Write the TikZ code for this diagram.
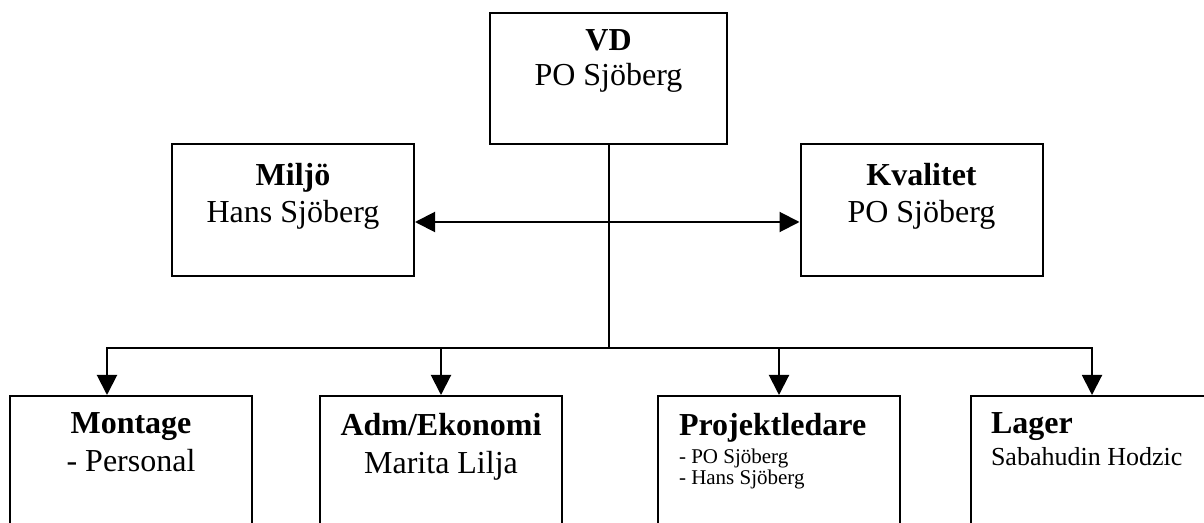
\documentclass[tikz,border=0pt]{standalone}
\usepackage{fontspec}
\setmainfont{Liberation Serif}
\usetikzlibrary{arrows.meta,positioning}

\begin{document}
\begin{tikzpicture}[x=0.5pt,y=-0.5pt,line width=1pt,
    box/.style={draw,anchor=north,minimum width=121pt,inner sep=0pt},
    txt/.style={inner sep=0pt,align=center,font=\fontsize{16}{18.5}\selectfont},
    ltxt/.style={txt,align=left},
    arr/.style={-{Triangle[width=10pt,length=10pt]}}]
            \useasboundingbox (0,0) rectangle (1204,523);
            \clip (0,0) rectangle (1204,523);
            \node[box,minimum width=118.5pt,minimum height=65.5pt] (vd) at (608.5,12) {};
            \node[box,minimum height=66pt] (miljo) at (293,143) {};
            \node[box,minimum height=66pt] (kval) at (921.5,143) {};
            \node[box,minimum height=75pt] (mont) at (131,395) {};
            \node[box,minimum height=75pt] (adm) at (441,395) {};
            \node[box,minimum height=75pt] (proj) at (779,395) {};
            \node[box,minimum height=75pt] (lager) at (1092,395) {};
            \node[txt,below=8.5pt of vd.north] (vdtxt) {\textbf{VD}\\[-1pt]PO Sjöberg};
            \node[txt,below=9.5pt of miljo.north] (miljotxt) {\textbf{Miljö}\\Hans Sjöberg};
            \node[txt,below=9.5pt of kval.north] (kvaltxt) {\textbf{Kvalitet}\\PO Sjöberg};
            \node[txt,below=8.5pt of mont.north] (monttxt) {\textbf{Montage}\\[0.5pt]- Personal};
            \node[txt,below=8.5pt of adm.north] (admtxt) {\textbf{Adm/Ekonomi}\\[0.5pt]Marita Lilja};
            \node[ltxt,below right=8.5pt and 10.5pt of proj.north west] (projtxt)
                {\textbf{Projektledare}\\[-4.5pt]{\fontsize{10.5}{10.5}\selectfont - PO Sjöberg}\\[-8pt]{\fontsize{10.5}{10.5}\selectfont - Hans Sjöberg}};
            \node[ltxt,below right=8.5pt and 10pt of lager.north west] (lagertxt)
                {\textbf{Lager}\\[-2.5pt]{\fontsize{13}{15}\selectfont Sabahudin Hodzic}};
            \coordinate (hub) at (608.5,348);
            \draw (vd.south) -- (hub);
            \draw[{Triangle[width=10pt,length=10pt]}-{Triangle[width=10pt,length=10pt]}]
                ([yshift=-6pt]miljo.east) -- ([yshift=-6pt]kval.west);
            \draw[arr] (hub) -| ([xshift=-12pt]mont.north);
            \draw[arr] (hub) -| (adm.north);
            \draw[arr] (hub) -| (proj.north);
            \draw[arr] (hub) -| (lager.north);
        \end{tikzpicture}
\end{document}
